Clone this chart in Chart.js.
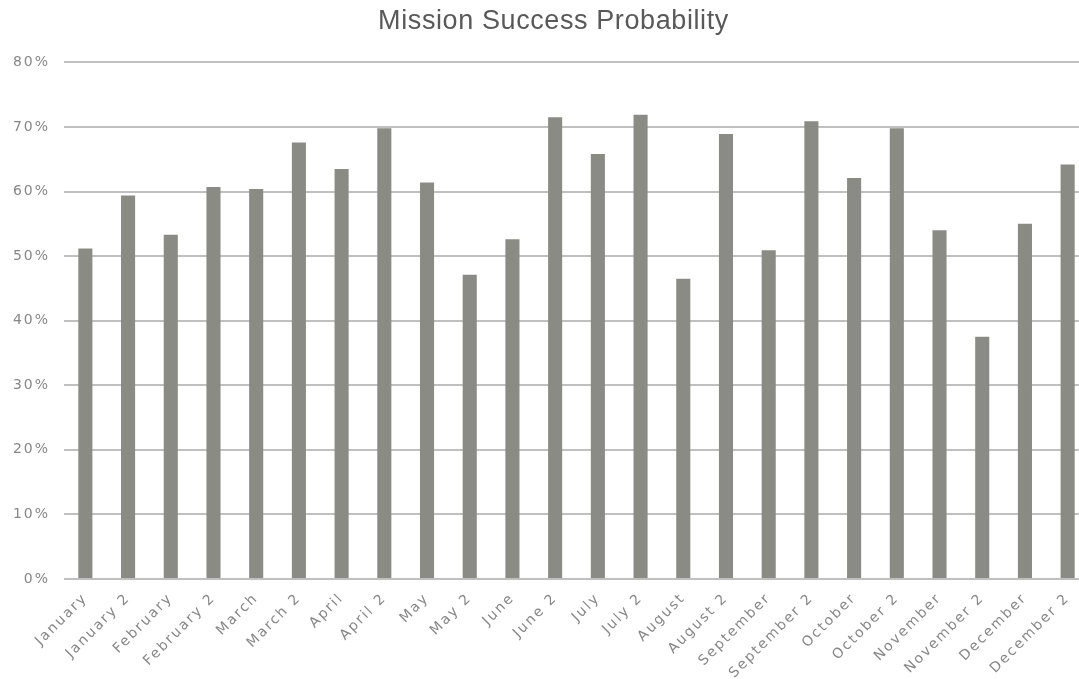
<!DOCTYPE html>
<html>
<head>
<meta charset="utf-8">
<title>Mission Success Probability</title>
<script src="https://cdn.jsdelivr.net/npm/chart.js@4/dist/chart.umd.min.js"></script>
<style>
  html, body { margin: 0; padding: 0; background: #ffffff; overflow: hidden; }
  #wrap { width: 1079px; height: 679px; overflow: hidden; position: relative; }
  canvas { display: block; }
</style>
</head>
<body>
<div id="wrap"><canvas id="chart" width="1107" height="679"></canvas></div>
<script>
// Month labels, two entries per month
const categories = [
  'January', 'January 2', 'February', 'February 2', 'March', 'March 2',
  'April', 'April 2', 'May', 'May 2', 'June', 'June 2',
  'July', 'July 2', 'August', 'August 2', 'September', 'September 2',
  'October', 'October 2', 'November', 'November 2', 'December', 'December 2'
];

// Success probability per entry, in percent
const successPct = [
  51.2, 59.4, 53.3, 60.7, 60.4, 67.6,
  63.5, 69.8, 61.4, 47.1, 52.6, 71.5,
  65.8, 71.9, 46.5, 68.9, 50.9, 70.9,
  62.1, 69.8, 54.0, 37.5, 55.0, 64.2
];

// Value axis ticks
const yTicks = [0, 10, 20, 30, 40, 50, 60, 70, 80];

const gridColor = '#c0c0c0';
const barColor = '#8b8b85';
const tickColor = '#878787';

// Letter tracking: light on the title, wider on the axis labels
const trackingPlugin = {
  id: 'tracking',
  beforeUpdate(chart) { chart.ctx.letterSpacing = '2px'; },
  afterLayout(chart) {
    Object.values(chart.scales).forEach((scale) => {
      if (scale._tracked) return;
      const drawLabels = scale.drawLabels;
      scale.drawLabels = function (area) {
        const ctx = this.ctx;
        const prev = ctx.letterSpacing;
        ctx.letterSpacing = '2px';
        drawLabels.call(this, area);
        ctx.letterSpacing = prev;
      };
      scale._tracked = true;
    });
  },
  beforeDraw(chart) { chart.ctx.letterSpacing = '0.6px'; }
};

new Chart(document.getElementById('chart'), {
  type: 'bar',
  data: {
    labels: categories,
    datasets: [{
      label: 'Mission Success Probability',
      data: successPct,
      backgroundColor: barColor,
      borderWidth: 0,
      categoryPercentage: 1.0,
      barPercentage: 0.33
    }]
  },
  plugins: [trackingPlugin],
  options: {
    responsive: false,
    animation: false,
    devicePixelRatio: 1,
    layout: { padding: 0 },
    plugins: {
      legend: { display: false },
      tooltip: { enabled: false },
      title: {
        display: true,
        text: 'Mission Success Probability',
        color: '#595959',
        font: { family: 'Liberation Sans, Arial, sans-serif', size: 27, weight: 'normal' },
        padding: { top: 5, bottom: 25 }
      }
    },
    scales: {
      x: {
        grid: { display: false, drawTicks: false },
        border: { display: false },
        ticks: {
          color: tickColor,
          font: { family: 'DejaVu Sans, sans-serif', size: 14 },
          maxRotation: 45,
          minRotation: 45,
          autoSkip: false,
          padding: 11
        },
        afterFit: (scale) => { scale.height = 100; }
      },
      y: {
        min: 0,
        max: 80,
        afterBuildTicks: (scale) => { scale.ticks = yTicks.map(v => ({ value: v })); },
        grid: { color: gridColor, lineWidth: 2, drawTicks: false },
        border: { display: false },
        ticks: {
          color: tickColor,
          font: { family: 'DejaVu Sans, sans-serif', size: 14 },
          padding: 14,
          callback: (v) => v + '%'
        },
        afterFit: (scale) => { scale.width = 64; }
      },
      // empty right-hand gutter that runs past the visible edge
      gutter: {
        type: 'linear',
        position: 'right',
        display: true,
        grid: { display: false, drawTicks: false },
        border: { display: false },
        ticks: { display: false },
        afterFit: (scale) => { scale.width = 18; }
      }
    }
  }
});
</script>
</body>
</html>
